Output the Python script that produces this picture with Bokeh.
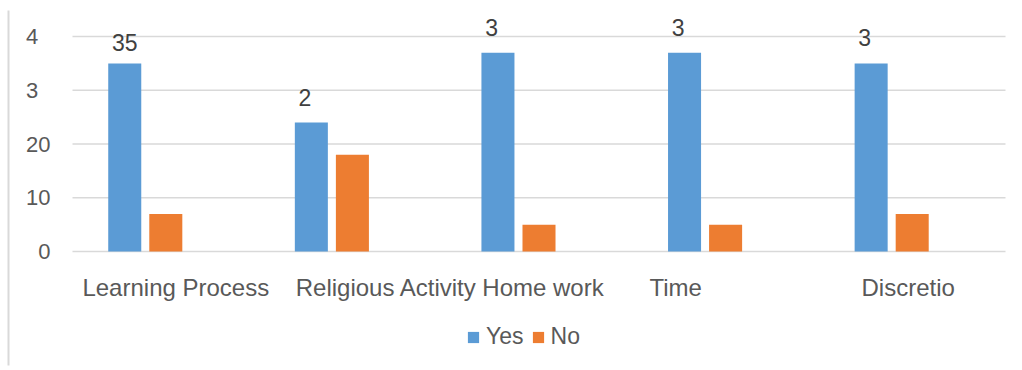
import numpy as np
from bokeh.plotting import figure
from bokeh.models import ColumnDataSource, Legend, LegendItem, BoxAnnotation, Range1d
from bokeh.core.properties import value
from bokeh.embed import file_html
from bokeh.resources import INLINE

categories = ["Learning Process", "Religious Activity", "Home work", "Time", "Discretio"]
yes_values = [35, 24, 37, 37, 35]
no_values = [7, 18, 5, 5, 7]
yes_labels = ["35", "2\u00a0\u00a0", "3\u00a0\u00a0", "3\u00a0\u00a0", "3\u00a0\u00a0"]
y_ticks = [0, 10, 20, 30, 40]
y_tick_labels = ["0", "10", "20", "3\u00a0\u00a0", "4\u00a0\u00a0"]
label_offsets = [10, 34, 4, -50, -4]

FONT = "Liberation Sans"
BLUE = "#5b9bd5"
ORANGE = "#ed7d31"
GRID = "#d9d9d9"

W, H = 1022, 370
left_px, right_px, top_px, zero_px = 72, 1005, 36, 251
ncat = len(categories)
ppu_x = (right_px - left_px) / ncat
ppu_y = (zero_px - top_px) / max(y_ticks)

xc = np.arange(ncat) + 0.5
src = ColumnDataSource(dict(x_yes=xc - 0.22, x_no=xc, x=xc, cat=categories,
                            yes=yes_values, no=no_values, ylab=yes_labels,
                            off=label_offsets, zero=[0] * ncat))
tsrc = ColumnDataSource(dict(y=y_ticks, lab=y_tick_labels, x0=[0] * len(y_ticks),
                             x1=[ncat] * len(y_ticks)))

p = figure(width=W, height=H, output_backend="svg", toolbar_location=None,
           x_range=Range1d(-left_px / ppu_x, ncat + (W - right_px) / ppu_x),
           y_range=Range1d(-(H - zero_px) / ppu_y, max(y_ticks) + top_px / ppu_y),
           min_border=0)
p.outline_line_color = None
p.axis.visible = False
p.grid.visible = False
p.background_fill_color = "white"
p.border_fill_color = "white"

# gridlines
p.segment(x0="x0", x1="x1", y0="y", y1="y", source=tsrc, line_color=GRID, line_width=1.5)
# y tick labels
p.text(x="x0", y="y", text="lab", source=tsrc, x_offset=-22, text_align="right",
       text_baseline="middle", text_font=value(FONT), text_font_size="22px",
       text_color="#595959")

r_yes = p.vbar(x="x_yes", top="yes", width=0.177, source=src,
               fill_color=BLUE, line_color=None)
r_no = p.vbar(x="x_no", top="no", width=0.177, source=src,
              fill_color=ORANGE, line_color=None)

p.text(x="x_yes", y="yes", text="ylab", source=src, text_align="center",
       text_baseline="bottom", y_offset=-12, text_font=value(FONT),
       text_font_size="23px", text_color="#404040")

p.text(x="x", y="zero", text="cat", source=src, x_offset="off", y_offset=36,
       text_align="center", text_baseline="middle", text_font=value(FONT),
       text_font_size="24px", text_color="#595959")

legend = Legend(items=[LegendItem(label="Yes", renderers=[r_yes]),
                       LegendItem(label="No", renderers=[r_no])],
                orientation="horizontal", location=(466, 20),
                glyph_width=14, glyph_height=14, label_standoff=6, spacing=7,
                padding=0, margin=0, border_line_color=None,
                background_fill_alpha=0,
                label_text_font=FONT, label_text_font_size="23px",
                label_text_color="#595959")
p.add_layout(legend, "center")

border = BoxAnnotation(left=7, right=9, top=5, bottom=360,
                       left_units="screen", right_units="screen",
                       top_units="screen", bottom_units="screen",
                       fill_color=GRID, fill_alpha=1, line_color=None)
p.add_layout(border)

open("out.html", "w").write(file_html(p, INLINE))
